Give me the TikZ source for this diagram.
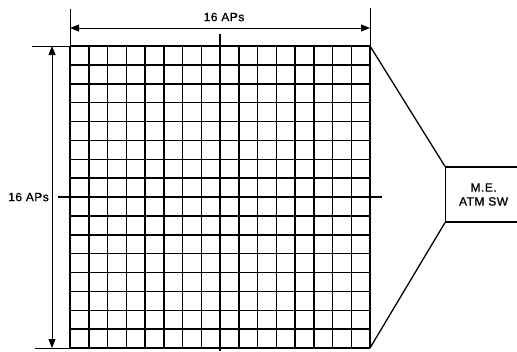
\documentclass[tikz,border=0pt]{standalone}
\usepackage{fontspec}
\setmainfont{Liberation Sans}[LetterSpace=4,FakeBold=1]
\usetikzlibrary{arrows.meta}
\tikzset{
  gridline/.style={line width=1.5pt,black},
  midline/.style={line width=2pt,black},
  dimline/.style={line width=1pt,black},
  dimarrow/.style={line width=1pt,{Triangle[length=9pt,width=7pt]}-{Triangle[length=9pt,width=7pt]}},
  lbl/.style={font=\fontsize{12}{13}\selectfont,inner sep=0pt},
  swbox/.style={draw,line width=1.2pt,minimum width=76pt,minimum height=55pt,inner sep=0pt,align=center,font=\fontsize{12}{14}\selectfont},
  link/.style={line width=1.3pt}
}
\begin{document}
\begin{tikzpicture}[x=1pt,y=-1pt]
\useasboundingbox (0,0) rectangle (517,351);
\clip (0,0) rectangle (517,351);
\fill[white] (0,0) rectangle (517,351);
% grid
\foreach \i in {0,...,16}{
  \draw[gridline] ({70+\i*18.75},46) -- ({70+\i*18.75},348);
  \draw[gridline] (70,{46+\i*18.875}) -- (370,{46+\i*18.875});
}
\coordinate (gTL) at (70,46);
\coordinate (gTR) at (370,46);
\coordinate (gBL) at (70,348);
\coordinate (gBR) at (370,348);
% centre lines
\coordinate (vTop) at (220,34);
\coordinate (vBot) at (220,351);
\coordinate (hL) at (58,197);
\coordinate (hR) at (382,197);
\draw[midline] (vTop) -- (vBot);
\draw[midline] (hL) -- (hR);
% top dimension
\coordinate (tL) at (70,9);
\coordinate (tR) at (370,8);
\draw[dimline] (tL) -- (gTL);
\draw[dimline] (tR) -- (gTR);
\coordinate (aL) at (70,28);
\coordinate (aR) at (370,28);
\draw[dimarrow] (aL) -- (aR);
\node[lbl] (toplbl) at (224,17) {16 APs};
% left dimension
\coordinate (lT) at (32,46);
\coordinate (lB) at (35,348);
\draw[dimline] (lT) -- (gTL);
\draw[dimline] (lB) -- (gBL);
\coordinate (bT) at (52,46);
\coordinate (bB) at (52,348);
\draw[dimarrow] (bT) -- (bB);
\node[lbl,anchor=east] (leftlbl) at (49,197) {16 APs};
% switch box
\node[swbox,anchor=west] (sw) at (445,194.5) {M.E.\\ATM SW};
\draw[link] (gTR) -- (sw.north west);
\draw[link] (gBR) -- (sw.south west);
\end{tikzpicture}
\end{document}
